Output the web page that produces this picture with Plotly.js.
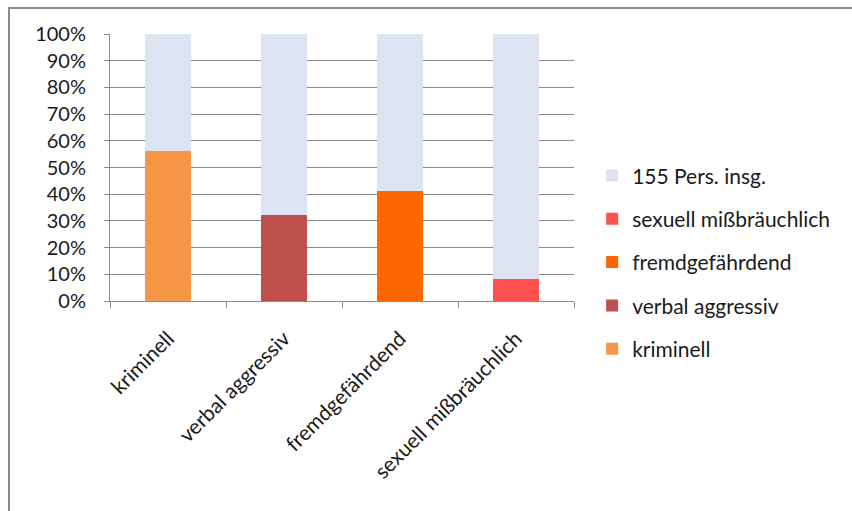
<!DOCTYPE html>
<html><head><meta charset="utf-8">
<script src="https://cdn.plot.ly/plotly-3.0.1.min.js"></script>
<style>
html,body{margin:0;padding:0;background:#fff;overflow:hidden;}
#frame{position:absolute;left:8px;top:7px;width:844px;height:504px;border-top:2px solid #888;border-left:2px solid #8a8a8a;box-sizing:border-box;}
#chart{position:absolute;left:0;top:0;width:852px;height:511px;}
</style></head>
<body>
<div id="frame"></div>
<div id="chart"></div>
<script>
const categories = ["kriminell", "verbal aggressiv", "fremdgefährdend", "sexuell mißbräuchlich"];
const seriesNames = ["kriminell", "verbal aggressiv", "fremdgefährdend", "sexuell mißbräuchlich"];
const shares = [56.1, 32.1, 41.3, 8.3];           // percent of 155 persons
const totalName = "155 Pers. insg.";
const totalShare = [100, 100, 100, 100];
const colors = ["#F79646", "#C0504D", "#FF6600", "#FF5050"];
const totalColor = "#DBE4F0";

const traces = [];
seriesNames.forEach((name, i) => {
  traces.push({
    type: "bar", name: name, x: categories,
    y: categories.map((c, j) => j === i ? shares[i] : 0),
    marker: {color: colors[i]}, legendgroup: "g" + i,
    legendrank: 1000 - i
  });
});
traces.push({
  type: "bar", name: totalName, x: categories,
  y: categories.map((c, j) => totalShare[j] - shares[j]),
  marker: {color: totalColor}, legendgroup: "gt", legendrank: 1
});

const layout = {
  width: 852, height: 511,
  paper_bgcolor: "rgba(0,0,0,0)", plot_bgcolor: "rgba(0,0,0,0)",
  margin: {l: 110, r: 278, t: 34, b: 210, pad: 0, autoexpand: false},
  barmode: "stack", bargap: 0.6,
  font: {family: "Lato, 'Open Sans', sans-serif", size: 21, color: "#1a1a1a"},
  xaxis: {
    type: "category", tickangle: -45, tickson: "boundaries", ticks: "outside",
    ticklen: 6, tickcolor: "#8c8c8c", showline: true, linecolor: "#8c8c8c",
    showgrid: false, zeroline: false, tickfont: {size: 21}, ticklabelstandoff: 16
  },
  yaxis: {
    range: [0, 100], dtick: 10, ticksuffix: "%", ticks: "outside", ticklen: 5,
    tickcolor: "#8c8c8c", showline: true, linecolor: "#8c8c8c",
    showgrid: true, gridcolor: "#8c8c8c", gridwidth: 1, zeroline: false,
    tickfont: {size: 20}, ticklabelstandoff: 14
  },
  legend: {
    xref: "container", yref: "container",
    x: 0.695, y: 0.696, xanchor: "left", yanchor: "top",
    traceorder: "grouped", tracegroupgap: 13,
    font: {size: 21}, itemwidth: 30, bgcolor: "rgba(0,0,0,0)"
  },
  showlegend: true
};
Plotly.newPlot("chart", traces, layout, {displayModeBar: false, staticPlot: true});
</script>
</body></html>
